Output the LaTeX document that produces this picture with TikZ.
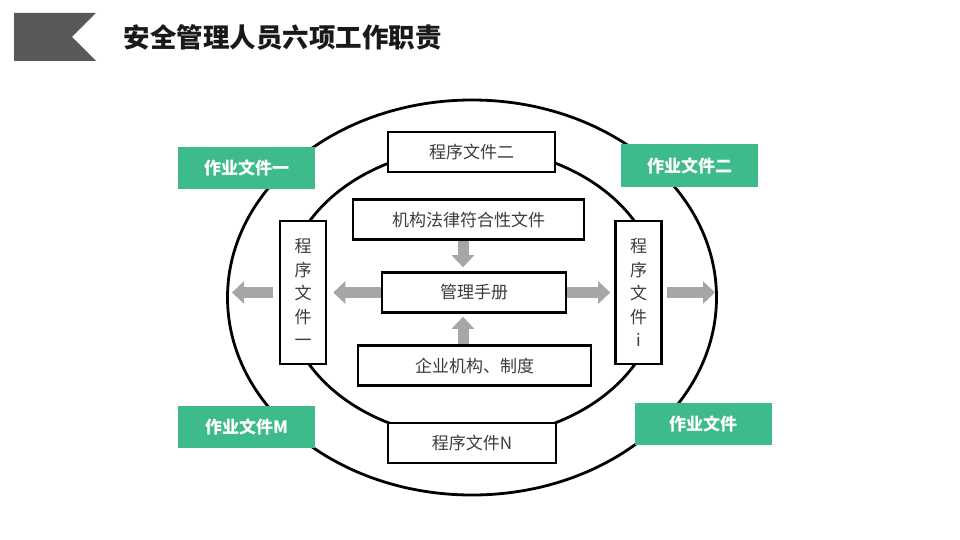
\documentclass[tikz,border=0pt]{standalone}
\usepackage{fontspec}
\setmainfont{Noto Sans CJK SC}
\usetikzlibrary{arrows.meta,positioning,calc}
\definecolor{docgreen}{RGB}{61,187,138}
\definecolor{flowgray}{RGB}{166,166,166}
\definecolor{bannergray}{RGB}{89,89,89}
\definecolor{textgray}{RGB}{60,60,60}

\begin{document}
\begin{tikzpicture}[x=1pt,y=-1pt,
  box/.style={draw=black,line width=2.6pt,fill=white,minimum height=40pt,inner sep=0pt,text=textgray,font=\fontsize{17}{20}\selectfont},
  tall/.style={box,minimum width=46pt,minimum height=143pt,align=center,font=\fontsize{17}{23.5}\selectfont},
  tag/.style={fill=docgreen,minimum width=137pt,minimum height=42pt,inner sep=0pt,text=white,font=\bfseries\fontsize{17}{20}\selectfont},
  flow/.style={flowgray,line width=11pt,-{Triangle[length=12pt,width=22pt]}}]
\useasboundingbox (0,0) rectangle (960,540);
% title bar
\fill[bannergray] (14,13) -- (96,13) -- (72,37) -- (96,61) -- (14,61) -- cycle;
\node[anchor=west,font=\bfseries\fontsize{26.5}{30}\selectfont,text=black!90] (title) at (120,37) {安全管理人员六项工作职责};
% rings
\draw[line width=2.8pt] (472,297.5) ellipse [x radius=244.5,y radius=197.5];
\draw[line width=2.8pt] (472,293) ellipse [x radius=187,y radius=145];
% documents
\node[box,minimum width=167pt] (prog2) at (471.5,152) {程序文件二};
\node[box,minimum width=231pt] (law) at (468.5,219.5) {机构法律符合性文件};
\node[box,minimum width=184pt] (mgmt) at (474,292.5) {管理手册};
\node[box,minimum width=233pt] (corp) at (474.5,365.5) {企业机构、制度};
\node[box,minimum width=168pt] (progN) at (472,443) {程序文件N};
\node[tall] (prog1) at (303,292.5) {程\\序\\文\\件\\一};
\node[tall] (progi) at (638.5,292.5) {程\\序\\文\\件\\i};
\node[tag] (work1) at (246.5,168) {作业文件一};
\node[tag] (work2) at (689.5,165.5) {作业文件二};
\node[tag] (workM) at (246.5,427) {作业文件M};
\node[tag] (work) at (703,423.5) {作业文件};
\coordinate (lout) at (232,292.5);
\coordinate (rout) at (715,292.5);
% flows
\draw[flow,shorten >=4pt] ([xshift=-5.5pt]law.south) -- ([xshift=-11pt]mgmt.north);
\draw[flow,shorten >=3pt] ([xshift=-11.5pt]corp.north) -- ([xshift=-11pt]mgmt.south);
\draw[flow,shorten >=6pt] (mgmt.west) -- (prog1.east);
\draw[flow,shorten <=6pt] (prog1.west) -- (lout);
\draw[flow,shorten >=4pt] (mgmt.east) -- (progi.west);
\draw[flow,shorten <=4pt] (progi.east) -- (rout);
\end{tikzpicture}
\end{document}
